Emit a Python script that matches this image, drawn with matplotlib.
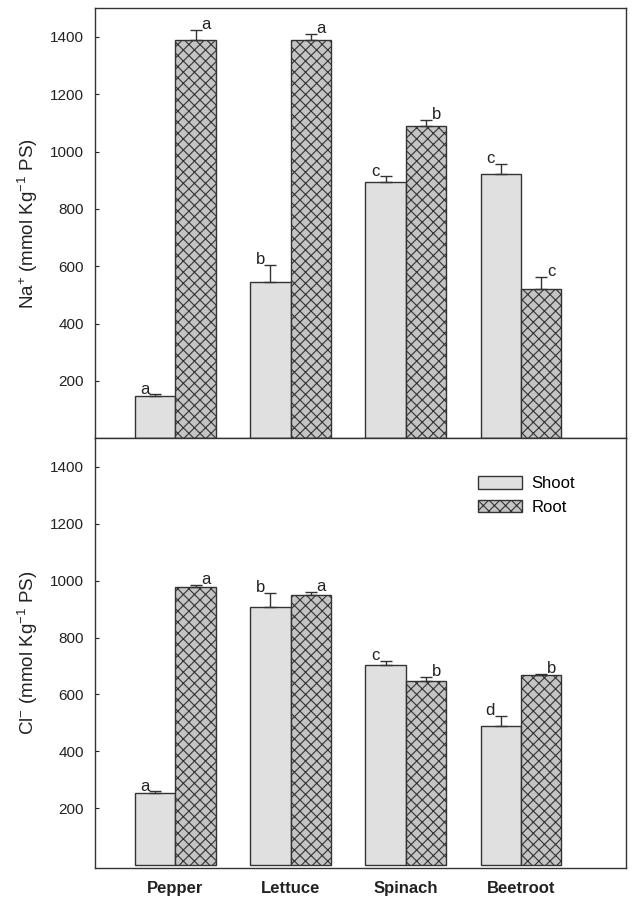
import numpy as np
import matplotlib.pyplot as plt
import matplotlib as mpl

mpl.rcParams['font.family'] = ['Liberation Sans', 'DejaVu Sans']
mpl.rcParams['mathtext.default'] = 'regular'
mpl.rcParams['hatch.linewidth'] = 0.8
mpl.rcParams['hatch.color'] = '#333333'

crops = ['Pepper', 'Lettuce', 'Spinach', 'Beetroot']

# Na+ (mmol Kg-1 PS)
na_shoot = [148, 545, 893, 922]
na_shoot_err = [5, 60, 20, 35]
na_root = [1390, 1390, 1090, 522]
na_root_err = [35, 20, 20, 40]
na_shoot_let = ['a', 'b', 'c', 'c']
na_root_let = ['a', 'a', 'b', 'c']

# Cl- (mmol Kg-1 PS)
cl_shoot = [255, 908, 703, 490]
cl_shoot_err = [5, 48, 15, 35]
cl_root = [978, 948, 648, 668]
cl_root_err = [8, 12, 15, 5]
cl_shoot_let = ['a', 'b', 'c', 'd']
cl_root_let = ['a', 'a', 'b', 'b']

edge = '#333333'
w = 0.35
x = np.arange(len(crops))

fig = plt.figure(figsize=(6.36, 9.11), dpi=100)
ax1 = fig.add_axes([0.149, 0.519, 0.835, 0.472])
ax2 = fig.add_axes([0.149, 0.047, 0.835, 0.472])


def panel(ax, sh, sh_e, rt, rt_e, sh_l, rt_l, ylabel):
    ax.bar(x - w / 2, sh, w, color='#e0e0e0', edgecolor=edge, linewidth=1, label='Shoot')
    ax.bar(x + w / 2, rt, w, color='#c4c4c4', edgecolor=edge, linewidth=1,
           hatch='xxx', label='Root')
    ax.errorbar(x - w / 2, sh, yerr=[np.zeros(4), sh_e], fmt='none', ecolor=edge,
                elinewidth=1, capsize=4, capthick=1)
    ax.errorbar(x + w / 2, rt, yerr=[np.zeros(4), rt_e], fmt='none', ecolor=edge,
                elinewidth=1, capsize=4, capthick=1)
    for i in range(len(crops)):
        ax.text(x[i] - w / 2 - 0.05, sh[i] + sh_e[i] - 8, sh_l[i], ha='right', va='bottom',
                fontsize=12, color='#222222')
        ax.text(x[i] + w / 2 + 0.05, rt[i] + rt_e[i] - 8, rt_l[i], ha='left', va='bottom',
                fontsize=12, color='#222222')
    ax.set_xlim(-0.70, 3.91)
    ax.set_ylim(0, 1500)
    ax.set_yticks([200, 400, 600, 800, 1000, 1200, 1400])
    ax.tick_params(axis='y', direction='in', length=3, labelsize=11, colors='#222222',
                   pad=8)
    ax.set_ylabel(ylabel, fontsize=13.5, color='#222222', labelpad=7)
    for s in ax.spines.values():
        s.set_color(edge)
        s.set_linewidth(1)


panel(ax1, na_shoot, na_shoot_err, na_root, na_root_err, na_shoot_let, na_root_let,
      r'Na$^{+}$ (mmol Kg$^{-1}$ PS)')
panel(ax2, cl_shoot, cl_shoot_err, cl_root, cl_root_err, cl_shoot_let, cl_root_let,
      r'Cl$^{-}$ (mmol Kg$^{-1}$ PS)')

ax1.set_xticks([])
ax2.set_ylim(-10, 1500)
ax2.set_xticks(x)
ax2.set_xticklabels(crops, fontsize=12, fontweight='bold', color='#222222')
ax2.tick_params(axis='x', length=0, pad=9)

ax2.legend(loc='upper left', bbox_to_anchor=(0.722, 0.912), frameon=False,
           fontsize=12, handlelength=2.6, handleheight=0.8, handletextpad=0.6,
           labelspacing=0.5, borderaxespad=0, borderpad=0)

fig.savefig('out.png', dpi=100)
